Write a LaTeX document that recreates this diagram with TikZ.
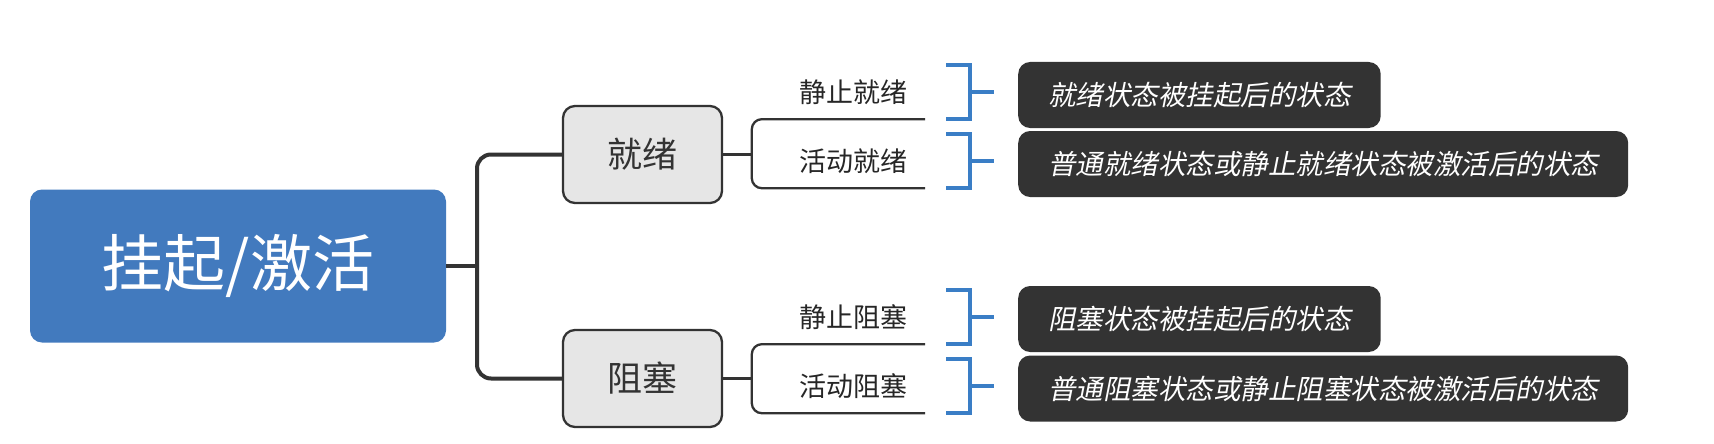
\documentclass[tikz,border=0pt]{standalone}
\usepackage{fontspec}
\setmainfont{Noto Sans CJK SC}
\newfontfamily\noteit[FakeSlant=0.2]{Noto Sans CJK SC}
\definecolor{rootblue}{RGB}{66,122,190}
\definecolor{braceblue}{RGB}{58,126,198}
\definecolor{darkbox}{RGB}{51,51,51}
\definecolor{lightbox}{RGB}{230,230,230}
\definecolor{ink}{RGB}{51,51,51}

\begin{document}
\begin{tikzpicture}[x=1pt,y=-1pt,
 rootbox/.style={fill=rootblue,rounded corners=12pt,minimum width=416pt,minimum height=153pt,text=white,font=\fontsize{62}{64}\selectfont},
 statebox/.style={draw=ink,line width=2.3pt,fill=lightbox,rounded corners=12pt,minimum width=159pt,minimum height=97pt,text=ink,font=\fontsize{35}{38}\selectfont},
 lbl/.style={minimum width=173pt,minimum height=54pt,text width=137pt,align=right,inner xsep=18pt,inner ysep=0pt,text=black!85,font=\fontsize{27}{29}\selectfont},
 note/.style={anchor=west,fill=darkbox,rounded corners=12pt,minimum height=66pt,inner xsep=30pt,text=white,font=\noteit\fontsize{27.5}{30}\selectfont},
 trunk/.style={draw=ink,line width=4pt,rounded corners=14pt},
 twig/.style={draw=ink,line width=2.3pt,rounded corners=10pt},
 brace/.style={draw=braceblue,line width=4pt}]
\useasboundingbox (0,0) rectangle (1714,444);
\node[rootbox] (root) at (238,266) {挂起/激活};
\node[statebox] (ready) at (642.5,154.5) {就绪};
\node[statebox] (blocked) at (642.5,378.5) {阻塞};
\node[lbl] (sr) at (838.5,92) {静止就绪};
\node[lbl] (ar) at (838.5,161) {活动就绪};
\node[lbl] (sb) at (838.5,317) {静止阻塞};
\node[lbl] (ab) at (838.5,386) {活动阻塞};
\node[note] (n1) at (1018,95) {就绪状态被挂起后的状态};
\node[note] (n2) at (1018,164) {普通就绪状态或静止就绪状态被激活后的状态};
\node[note] (n3) at (1018,319) {阻塞状态被挂起后的状态};
\node[note] (n4) at (1018,388.5) {普通阻塞状态或静止阻塞状态被激活后的状态};
\coordinate (fork) at (477,266);
\draw[trunk] (root.east) -- (fork);
\draw[trunk] (ready.west) -| (fork) |- (blocked.west);
\draw[twig] (ready.east) -- (ready.east -| sr.south west);
\draw[twig] (sr.south east) -- (sr.south west) -- (ar.south west) -- (ar.south east);
\draw[twig] (blocked.east) -- (blocked.east -| sb.south west);
\draw[twig] (sb.south east) -- (sb.south west) -- (ab.south west) -- (ab.south east);
\foreach \l/\n in {sr/n1,ar/n2,sb/n3,ab/n4} {
 \draw[brace] ([xshift=21pt]\l.north east) -| ([xshift=45pt]\l.east) |- ([xshift=21pt]\l.south east);
 \draw[brace,shorten >=24pt] ([xshift=45pt]\l.east) -- (\l.east -| \n.west);
}
\end{tikzpicture}
\end{document}
